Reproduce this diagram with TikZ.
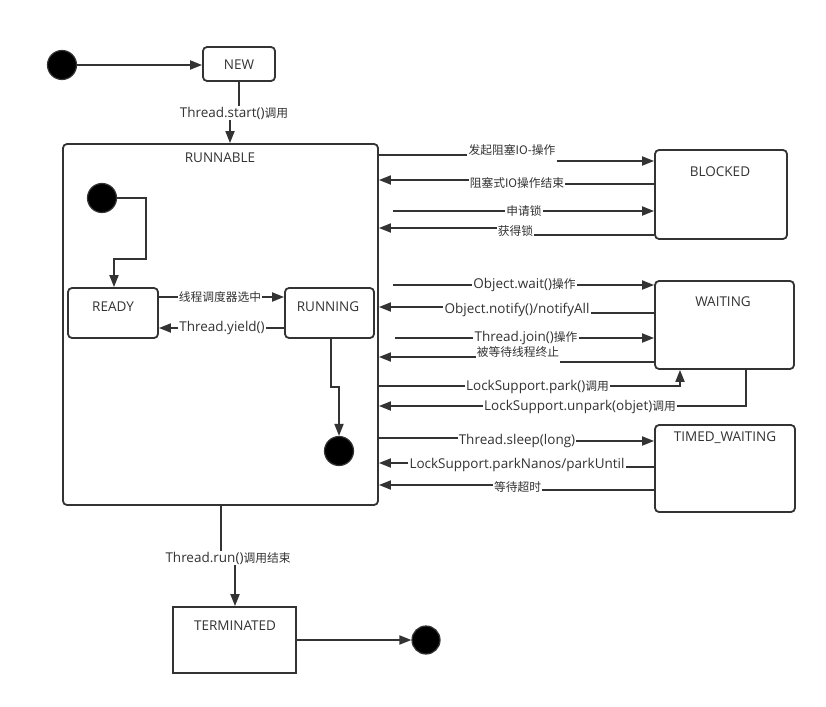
\documentclass[tikz,border=0pt]{standalone}
\usepackage{fontspec}
\setmainfont{Open Sans}
\newfontfamily\zhfont{Noto Sans CJK SC}[Scale=0.87]
\newcommand\zh[1]{{\zhfont #1}}
\usetikzlibrary{arrows.meta}
\definecolor{ink}{HTML}{333333}
\tikzset{
 box/.style={draw=ink, line width=1.8pt, rounded corners=4pt, inner sep=0pt},
 sqbox/.style={draw=ink, line width=1.8pt, inner sep=0pt},
 title/.style={text=ink, font=\fontsize{13.5}{15}\selectfont, inner sep=0pt},
 lbl/.style={text=ink, font=\fontsize{13.5}{15}\selectfont, inner sep=1pt},
 dot/.style={circle, fill=black, draw=ink, line width=1.2pt, minimum size=29pt, inner sep=0pt},
 conn/.style={draw=ink, line width=1.8pt},
 arr/.style={conn, -{Triangle[length=12pt,width=9pt]}},
}
\begin{document}
\begin{tikzpicture}[x=1pt,y=-1pt]
\fill[white] (0,0) rectangle (826,706);
\useasboundingbox (0,0) rectangle (826,706);

% states
\node[dot] (start) at (62,65) {};
\node[box, minimum width=72pt, minimum height=34pt] (new) at (239,64) {};
\node[title] (tnew) at (239,64.5) {NEW};

\node[box, minimum width=315pt, minimum height=361pt] (runnable) at (220.5,324.5) {};
\node[title] (trunnable) at (220,157.5) {RUNNABLE};

\node[dot] (istart) at (102,198) {};
\node[box, minimum width=90pt, minimum height=50pt] (ready) at (113,313) {};
\node[title] (tready) at (113,306.5) {READY};
\node[box, minimum width=89pt, minimum height=50pt] (running) at (329.5,313) {};
\node[title] (trunning) at (328,306.5) {RUNNING};
\node[dot] (rend) at (339,451) {};

\node[box, minimum width=132pt, minimum height=89pt] (blocked) at (721,194.5) {};
\node[title] (tblocked) at (720,171.5) {BLOCKED};
\node[box, minimum width=139pt, minimum height=88pt] (waiting) at (724.5,325) {};
\node[title] (twaiting) at (723,301.5) {WAITING};
\node[box, minimum width=140pt, minimum height=87pt] (timed) at (725,468.5) {};
\node[title] (ttimed) at (725,437.5) {TIMED\_WAITING};

\node[sqbox, minimum width=123pt, minimum height=66pt] (term) at (234.5,640) {};
\node[title] (tterm) at (235,625.5) {TERMINATED};
\node[dot, minimum size=28pt] (fin) at (426,640) {};

% top
\draw[arr] (start) -- (new.west |- start);
\node[lbl] (ls) at (234,113) {Thread.start()\zh{调用}};
\draw[conn] (new.south -| 239,0) -- (ls.north -| 239,0);
\draw[arr] (ls.south -| 230,0) -- (runnable.north -| 230,0);

% inner
\draw[arr] (istart.east) -- (146,198) -- (146,259) -- (114,259) -- (ready.north -| 114,0);
\node[lbl] (r1) at (220,297) {\zh{线程调度器选中}};
\draw[conn] (ready.east |- 0,297) -- (r1.west |- 0,297);
\draw[arr] (r1.east |- 0,297) -- (running.west |- 0,297);
\node[lbl] (r2) at (222,328) {Thread.yield()};
\draw[conn] (running.west |- 0,328) -- (r2.east |- 0,328);
\draw[arr] (r2.west |- 0,328) -- (ready.east |- 0,328);
\draw[arr] (running.south -| 331,0) -- (331,387) -- (339,387) -- (rend.north);

% BLOCKED
\node[lbl] (l1) at (512,150) {\zh{发起阻塞IO-操作}};
\draw[conn] (runnable.east |- 0,155) -- (l1.west |- 0,155);
\draw[arr] (l1.east |- 0,161) -- (blocked.west |- 0,161);

\node[lbl] (l2) at (517,183) {\zh{阻塞式IO操作结束}};
\draw[conn] (blocked.west |- 0,184) -- (l2.east |- 0,184);
\draw[arr] (l2.west |- 0,180) -- (runnable.east |- 0,180);

\coordinate (s3) at (393,211);
\node[lbl] (l3) at (524,211) {\zh{申请锁}};
\draw[conn] (s3) -- (l3.west |- s3);
\draw[arr] (l3.east |- s3) -- (blocked.west |- s3);

\node[lbl] (l4) at (515.5,231) {\zh{获得锁}};
\draw[conn] (blocked.west |- 0,235) -- (l4.east |- 0,235);
\draw[arr] (l4.west |- 0,228) -- (runnable.east |- 0,228);

% WAITING
\coordinate (s5) at (393,285);
\node[lbl] (l5) at (524.5,285) {Object.wait()\zh{操作}};
\draw[conn] (s5) -- (l5.west |- s5);
\draw[arr] (l5.east |- s5) -- (waiting.west |- s5);

\node[lbl] (l6) at (517,310) {Object.notify()/notifyAll};
\draw[conn] (waiting.west |- 0,313) -- (l6.east |- 0,313);
\draw[arr] (l6.west |- 0,307) -- (runnable.east |- 0,307);

\coordinate (s7) at (395,338);
\node[lbl] (l7) at (526,338) {Thread.join()\zh{操作}};
\draw[conn] (s7) -- (l7.west |- s7);
\draw[arr] (l7.east |- s7) -- (waiting.west |- s7);

\node[lbl] (l8) at (518,352) {\zh{被等待线程终止}};
\draw[conn] (waiting.west |- 0,362) -- (l8.east |- 0,362);
\draw[arr] (l8.west |- 0,357) -- (runnable.east |- 0,357);

\coordinate (k9) at (680,386);
\node[lbl] (l9) at (537.5,387) {LockSupport.park()\zh{调用}};
\draw[conn] (runnable.east |- k9) -- (l9.west |- k9);
\draw[arr] (l9.east |- k9) -- (k9) -- (waiting.south -| k9);

\coordinate (k10) at (746,406);
\node[lbl] (l10) at (580,407) {LockSupport.unpark(objet)\zh{调用}};
\draw[conn] (waiting.south -| k10) -- (k10) -- (l10.east |- k10);
\draw[arr] (l10.west |- k10) -- (runnable.east |- k10);

% TIMED_WAITING
\node[lbl] (l11) at (517,441) {Thread.sleep(long)};
\draw[conn] (runnable.east |- 0,438) -- (l11.west |- 0,438);
\draw[arr] (l11.east |- 0,441) -- (timed.west |- 0,441);

\node[lbl] (l12) at (517,465) {LockSupport.parkNanos/parkUntil};
\draw[conn] (timed.west |- 0,467) -- (l12.east |- 0,467);
\draw[arr] (l12.west |- 0,463) -- (runnable.east |- 0,463);

\node[lbl] (l13) at (517.5,487) {\zh{等待超时}};
\draw[conn] (timed.west |- 0,490) -- (l13.east |- 0,490);
\draw[arr] (l13.west |- 0,485) -- (runnable.east |- 0,485);

% bottom
\node[lbl] (lr) at (228,558) {Thread.run()\zh{调用结束}};
\draw[conn] (runnable.south -| 221,0) -- (lr.north -| 221,0);
\draw[arr] (lr.south -| 235,0) -- (term.north -| 235,0);
\draw[arr] (term.east |- fin) -- (fin.west);
\end{tikzpicture}
\end{document}
